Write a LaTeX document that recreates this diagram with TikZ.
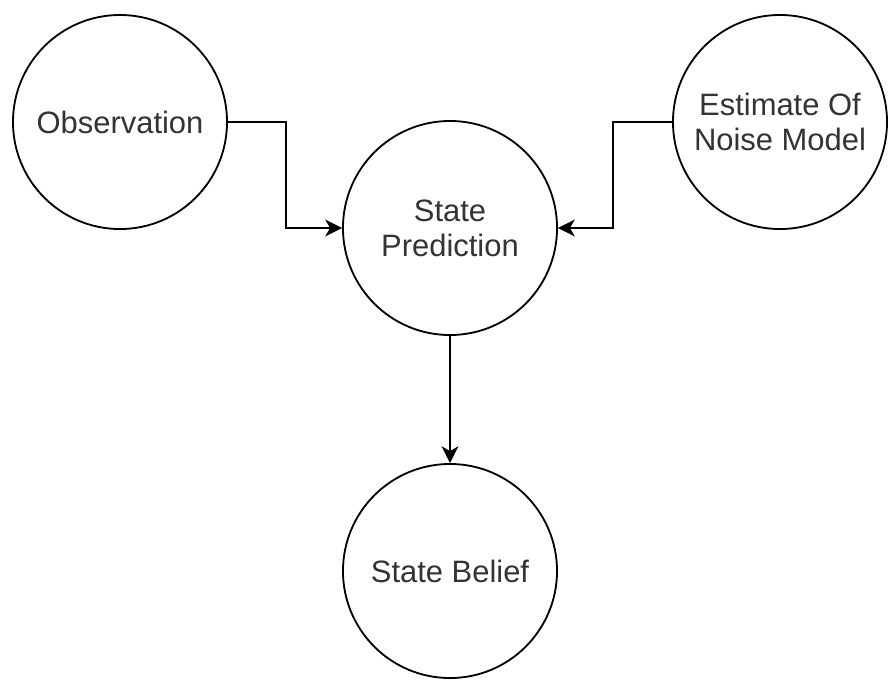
\documentclass[tikz,border=0pt]{standalone}
\usepackage{fontspec}
\setmainfont{Liberation Sans}
\usetikzlibrary{arrows.meta}

\begin{document}
\begin{tikzpicture}[x=0.025cm, y=-0.025cm, line width=1.3pt,
	state/.style={draw, circle, fill=white, minimum size=5.35cm, inner sep=0pt,
	              align=center, text=black!80, font=\fontsize{22}{25}\selectfont},
	wire/.style={-{Stealth[length=0.42cm, width=0.42cm, inset=0.12cm]}}]
	\useasboundingbox (0,0) rectangle (889,679);
	
	% Nodes
	\node (obs)    at (120,122) [state] {Observation};
	\node (noise)  at (780,122) [state] {Estimate Of\\Noise Model};
	\node (pred)   at (450,228) [state] {State\\Prediction};
	\node (belief) at (450,571) [state] {State Belief};
	
	% Wires into the prediction
	\draw [wire] (obs.east)   -- ++(58,0)  |- (pred.west);
	\draw [wire] (noise.west) -- ++(-59,0) |- (pred.east);
	
	% Wire down to the belief
	\draw [wire] (pred) -- (belief);
\end{tikzpicture}
\end{document}
